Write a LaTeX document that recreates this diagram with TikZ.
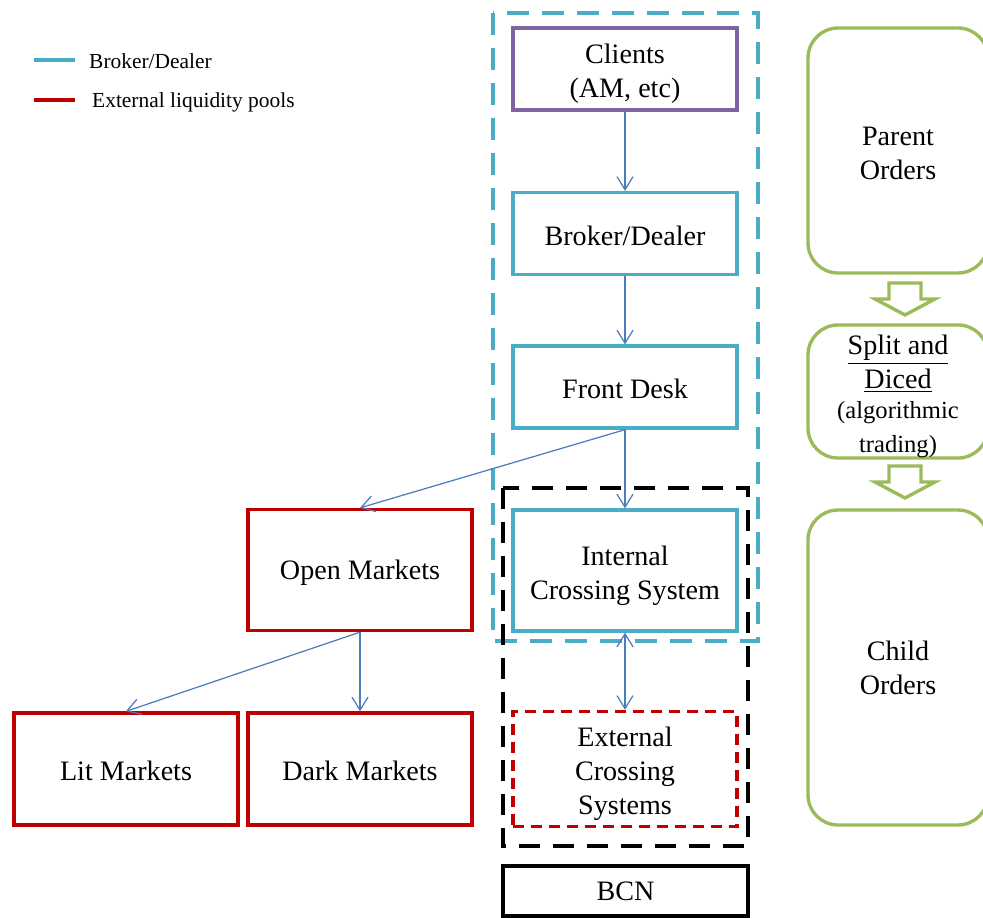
\documentclass[tikz,border=0pt]{standalone}
\usepackage{fontspec}
\setmainfont{Liberation Serif}
\usepackage{tikz}
\usetikzlibrary{arrows.meta, positioning}
\definecolor{bdblue}{HTML}{4BACC6}
\definecolor{poolred}{HTML}{C00000}
\definecolor{clientpurple}{HTML}{8064A2}
\definecolor{ordergreen}{HTML}{9BBB59}
\definecolor{flowblue}{HTML}{4A7EBB}
% struts that push box text a little lower
\newcommand{\twoline}{\rule{0pt}{5.9mm}}
\newcommand{\oneline}{\rule{0pt}{4.8mm}}
\tikzset{
    box/.style={
        draw,
        line width=1.9pt,
        minimum width=4.48cm,
        minimum height=1.64cm,
        align=center,
        font=\fontsize{16}{19.3}\selectfont
    },
    bdbox/.style={box, draw=bdblue},
    poolbox/.style={box, draw=poolred},
    orderbox/.style={
        draw=ordergreen,
        line width=1.9pt,
        rounded corners=0.6cm,
        minimum width=3.6cm,
        align=center,
        font=\fontsize{16}{19.3}\selectfont
    },
    flow/.style={
        draw=flowblue,
        line width=0.7pt,
        -{Straight Barb[length=2.6mm,width=3.2mm]}
    },
    blockarrow/.style={draw=ordergreen, line width=1.9pt}
}
\begin{document}
\begin{tikzpicture}[x=0.02cm, y=-0.02cm]
	\useasboundingbox (0,0) rectangle (983,918);
	% legend
	\draw[bdblue, line width=2.2pt] (34,60) -- (75,60);
	\draw[poolred, line width=2.2pt] (34,100) -- (75,100);
	\node[anchor=west, font=\fontsize{12.2}{14}\selectfont] (legbd) at (83,61) {Broker/Dealer};
	\node[anchor=west, font=\fontsize{12.2}{14}\selectfont] (legpool) at (86,102) {External liquidity pools};
	% enclosures
	\draw[bdblue, line width=1.9pt, dash pattern=on 0.44cm off 0.26cm] (493,13) rectangle (758,641);
	\draw[black, line width=1.9pt, dash pattern=on 0.42cm off 0.26cm] (503,488) rectangle (748,846);
	% broker/dealer chain
	\node[box, draw=clientpurple] (clients) at (625,69) {\twoline Clients\\(AM, etc)};
	\node[bdbox] (broker) at (625,233.5) {\oneline Broker/Dealer};
	\node[bdbox] (desk) at (625,387) {\oneline Front Desk};
	\node[bdbox, minimum height=2.42cm] (internal) at (625,570.5) {\twoline Internal\\Crossing System};
	\node[box, draw=poolred, dash pattern=on 0.22cm off 0.14cm, minimum height=2.24cm] (external) at (625,769) {\twoline External\\Crossing\\Systems};
	\node[box, minimum width=4.9cm, minimum height=1cm] (bcn) at (625.5,891) {BCN};
	% markets
	\node[poolbox, minimum height=2.42cm] (open) at (360,570) {\oneline Open Markets};
	\node[poolbox, minimum height=2.24cm] (lit) at (126,769) {\oneline Lit Markets};
	\node[poolbox, minimum height=2.24cm] (dark) at (360,769) {\oneline Dark Markets};
	% flows
	\draw[flow] (clients) -- (broker);
	\draw[flow] (broker) -- (desk);
	\draw[flow] (desk) -- (internal);
	\draw[flow] (desk.south) -- (open.north);
	\draw[flow] (open.south) -- (lit.north);
	\draw[flow] (open) -- (dark);
	\draw[flow, {Straight Barb[length=2.6mm,width=3.2mm]}-{Straight Barb[length=2.6mm,width=3.2mm]}] (internal) -- (external);
	% orders
	\node[orderbox, minimum height=4.9cm] (parent) at (898,150.5) {\oneline Parent\\Orders};
	\node[orderbox, inner ysep=0pt, minimum height=2.66cm] (split) at (898,391.5) {\twoline\underline{Split and}\\\underline{Diced}\\[-2pt]{\fontsize{14}{16.5}\selectfont(algorithmic}\\{\fontsize{14}{16.5}\selectfont trading)}};
	\node[orderbox, minimum height=6.3cm] (child) at (898,667.5) {Child\\Orders};
	\draw[blockarrow] (889,283) -- (921,283) -- (921,299) -- (935,299) -- (905,315) -- (875,299) -- (889,299) -- cycle;
	\draw[blockarrow] (889,466) -- (921,466) -- (921,482) -- (935,482) -- (905,498) -- (875,482) -- (889,482) -- cycle;
\end{tikzpicture}
\end{document}
